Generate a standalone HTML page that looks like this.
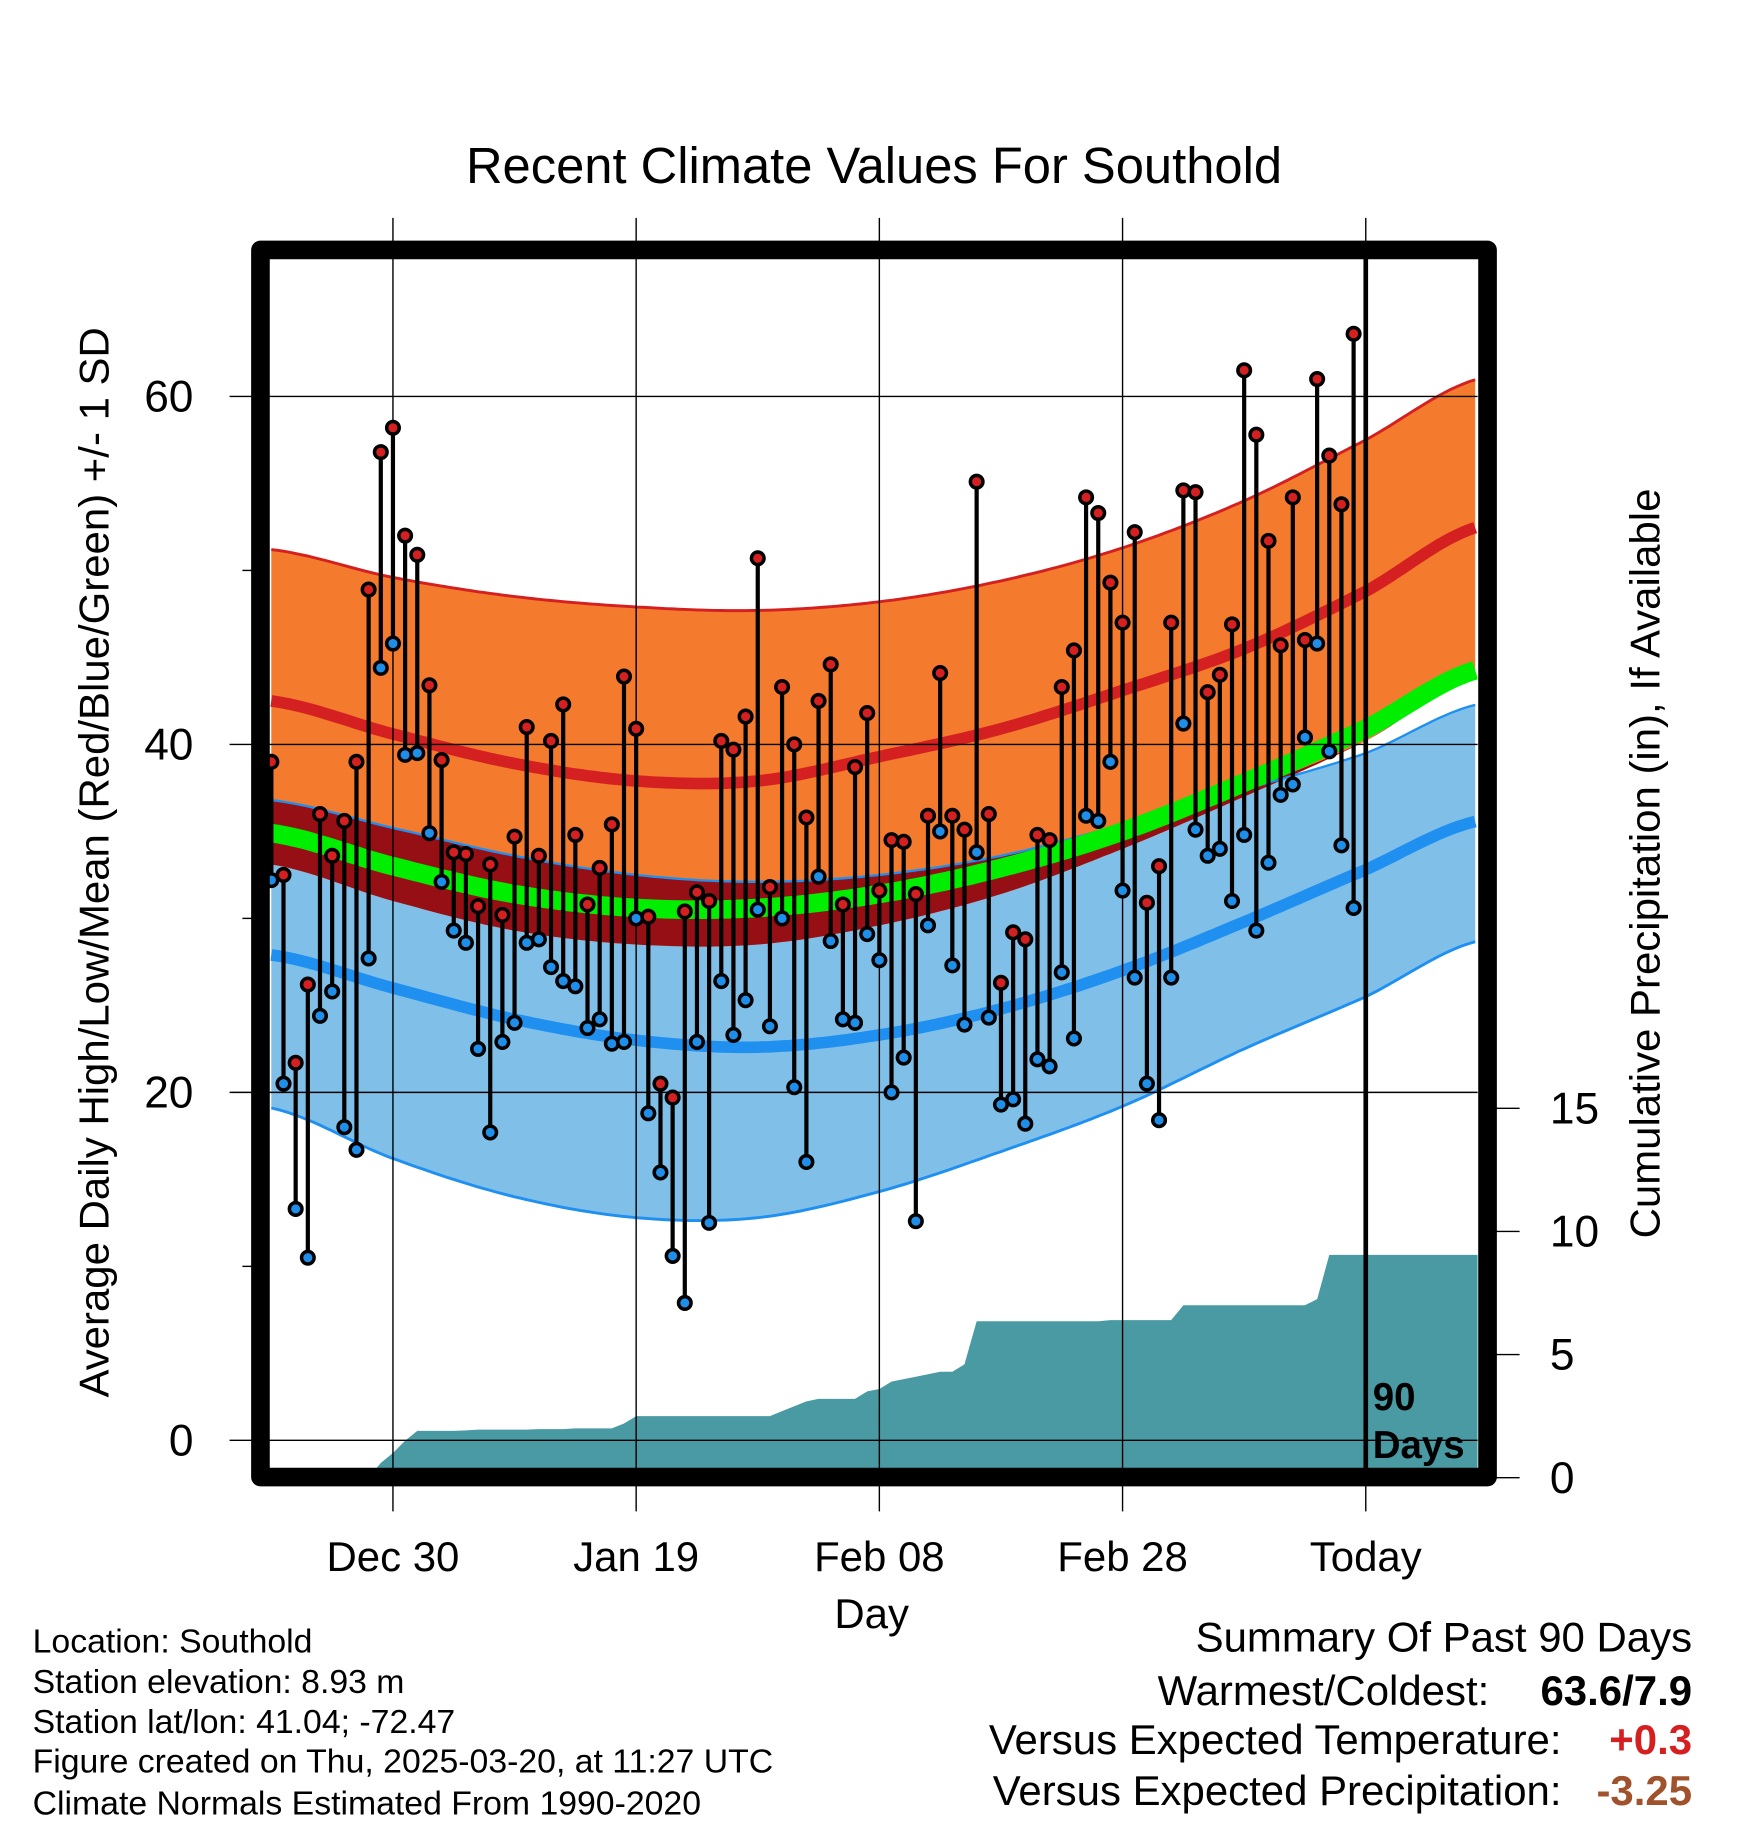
<!DOCTYPE html>
<html><head><meta charset="utf-8"><style>
html,body{margin:0;padding:0;background:#fff;}
svg{display:block;font-family:"Liberation Sans",sans-serif;}
</style></head><body>
<svg id="chart" width="1748" height="1828" viewBox="0 0 1500 1568.65" preserveAspectRatio="none" xmlns="http://www.w3.org/2000/svg">
<defs><clipPath id="plotclip"><rect x="231" y="222" width="1037" height="1038"/></clipPath></defs>
<rect x="0" y="0" width="1500" height="1568.65" fill="#fff"/>
<text x="750" y="157" font-size="43.5" text-anchor="middle">Recent Climate Values For Southold</text>
<g id="bands" clip-path="url(#plotclip)"></g>
<g id="grid"></g>
<g id="marks" clip-path="url(#plotclip)"></g>
<g id="axes"></g>
<rect x="223.5" y="214.5" width="1053" height="1053" fill="none" stroke="#000" stroke-width="16" stroke-linejoin="round"/>
<text transform="translate(93,740) rotate(-90)" font-size="36" text-anchor="middle">Average Daily High/Low/Mean (Red/Blue/Green) +/- 1 SD</text>
<text transform="translate(1424,741) rotate(-90)" font-size="36" text-anchor="middle">Cumulative Precipitation (in), If Available</text>
<text x="748" y="1397" font-size="36" text-anchor="middle">Day</text>
<text x="1178" y="1210" font-size="33" font-weight="bold">90</text>
<text x="1178" y="1251" font-size="33" font-weight="bold">Days</text>
<g font-size="29">
<text x="28" y="1418">Location: Southold</text>
<text x="28" y="1453">Station elevation: 8.93 m</text>
<text x="28" y="1487">Station lat/lon: 41.04; -72.47</text>
<text x="28" y="1521">Figure created on Thu, 2025-03-20, at 11:27 UTC</text>
<text x="28" y="1557">Climate Normals Estimated From 1990-2020</text>
</g>
<g font-size="36">
<text x="1452" y="1417" text-anchor="end">Summary Of Past 90 Days</text>
<text x="1278" y="1463" text-anchor="end">Warmest/Coldest:</text>
<text x="1452" y="1463" text-anchor="end" font-weight="bold">63.6/7.9</text>
<text x="1340" y="1505" text-anchor="end">Versus Expected Temperature:</text>
<text x="1452" y="1505" text-anchor="end" font-weight="bold" fill="#d42020">+0.3</text>
<text x="1340" y="1549" text-anchor="end">Versus Expected Precipitation:</text>
<text x="1452" y="1549" text-anchor="end" font-weight="bold" fill="#a0522d">-3.25</text>
</g>
</svg>
<script>
const highs=[39,32.5,21.7,26.2,36.0,33.6,35.6,39.0,48.9,56.8,58.2,52.0,50.9,43.4,39.1,33.8,33.7,30.7,33.1,30.2,34.7,41.0,33.6,40.2,42.3,34.8,30.8,32.9,35.4,43.9,40.9,30.1,20.5,19.7,30.4,31.5,31.0,40.2,39.7,41.6,50.7,31.8,43.3,40.0,35.8,42.5,44.6,30.8,38.7,41.8,31.6,34.5,34.4,31.4,35.9,44.1,35.9,35.1,55.1,36.0,26.3,29.2,28.8,34.8,34.5,43.3,45.4,54.2,53.3,49.3,47.0,52.2,30.9,33.0,47.0,54.6,54.5,43.0,44.0,46.9,61.5,57.8,51.7,45.7,54.2,46.0,61.0,56.6,53.8,63.6];
const lows=[32.2,20.5,13.3,10.5,24.4,25.8,18.0,16.7,27.7,44.4,45.8,39.4,39.5,34.9,32.1,29.3,28.6,22.5,17.7,22.9,24.0,28.6,28.8,27.2,26.4,26.1,23.7,24.2,22.8,22.9,30.0,18.8,15.4,10.6,7.9,22.9,12.5,26.4,23.3,25.3,30.5,23.8,30.0,20.3,16.0,32.4,28.7,24.2,24.0,29.1,27.6,20.0,22.0,12.6,29.6,35.0,27.3,23.9,33.8,24.3,19.3,19.6,18.2,21.9,21.5,26.9,23.1,35.9,35.6,39.0,31.6,26.6,20.5,18.4,26.6,41.2,35.1,33.6,34.0,31.0,34.8,29.3,33.2,37.1,37.7,40.4,45.8,39.6,34.2,30.6];
const precip=[0,0,0,0,0,0,0,0,0,0.6,1.0,1.5,1.9,1.9,1.9,1.9,1.92,1.95,1.95,1.95,1.95,1.95,1.97,1.97,1.97,2.0,2.0,2.0,2.0,2.2,2.5,2.5,2.5,2.5,2.5,2.5,2.5,2.5,2.5,2.5,2.5,2.5,2.7,2.9,3.1,3.2,3.2,3.2,3.2,3.5,3.6,3.9,4.0,4.1,4.2,4.3,4.3,4.6,6.35,6.35,6.35,6.35,6.35,6.35,6.35,6.35,6.35,6.35,6.35,6.4,6.4,6.4,6.4,6.4,6.4,7.0,7.0,7.0,7.0,7.0,7.0,7.0,7.0,7.0,7.0,7.0,7.25,9.05,9.05,9.05];
const normDays=[-90,-80,-70,-60,-50,-40,-30,-20,-10,0,9.2];
const highTop=[51.2,49.6,48.5,47.9,47.7,48.2,49.4,51.3,54.0,57.5,61.0];
const highMean=[42.5,40.6,38.9,37.9,37.9,39.3,40.9,43.1,45.5,48.8,52.5];
const highBot=[33.1,31.0,29.3,28.5,28.5,29.6,31.4,34.0,37.0,40.2,44.0];
const meanAll=[34.9,33.0,31.4,30.6,30.6,31.4,32.9,35.0,37.8,40.9,44.3];
const lowTop=[36.8,35.2,33.6,32.5,32.1,32.5,33.6,35.4,37.4,39.5,42.3];
const lowMean=[27.9,26.0,24.2,23.0,22.6,23.3,24.8,27.0,29.8,32.8,35.6];
const lowBot=[19.1,16.2,14.0,12.8,12.8,14.3,16.6,19.2,22.5,25.5,28.7];
const xTickLabels=["Dec 30","Jan 19","Feb 08","Feb 28","Today"];
const xTickDays=[-80,-60,-40,-20,0];
const yTicks=[0,20,40,60];
const yMinor=[10,30,50];
const pTicks=[0,5,10,15];

const NS="http://www.w3.org/2000/svg";
const xDay=d=>1172+d*10.435;
const yT=v=>1236-v*14.93;
const yP=v=>1268-v*21.13;
function mk(tag,attrs,parent){const e=document.createElementNS(NS,tag);for(const k in attrs)e.setAttribute(k,attrs[k]);parent.appendChild(e);return e;}
function dense(arr){const pts=[];for(let d=-90;d<=9.2;d+=0.5){let i=0;while(i<normDays.length-2&&d>normDays[i+1])i++;const t=(d-normDays[i])/(normDays[i+1]-normDays[i]);
const p0=arr[Math.max(i-1,0)],p1=arr[i],p2=arr[i+1],p3=arr[Math.min(i+2,arr.length-1)];
const m1=(p2-p0)/2,m2=(p3-p1)/2;const t2=t*t,t3=t2*t;
const v=(2*t3-3*t2+1)*p1+(t3-2*t2+t)*m1+(-2*t3+3*t2)*p2+(t3-t2)*m2;pts.push([xDay(d),yT(v),v]);}return pts;}
function pathOf(pts){return pts.map((p,i)=>(i?"L":"M")+p[0].toFixed(1)+","+p[1].toFixed(1)).join("");}
function band(top,bot,fill,name){const a=dense(top),b=dense(bot).reverse();
const p=mk("path",{d:pathOf(a)+pathOf(b).replace("M","L")+"Z",fill:fill},bands);

return p;}
function line(arr,color,w,name){const p=mk("path",{d:pathOf(dense(arr)),fill:"none",stroke:color,"stroke-width":w},bands);

return p;}
const bands=document.getElementById("bands");
band(lowTop,lowBot,"#80c0e8","low-sd-band");
band(highTop,highBot,"#f47a2e","high-sd-band");
const ov=lowTop.map((v,i)=>Math.max(v,highBot[i]));
band(ov,highBot,"#960f14","overlap-band");
line(lowTop,"#2090f0",2,"low-sd-top-line");
line(lowBot,"#2090f0",2.5,"low-sd-bottom-line");
line(highTop,"#d42020",2.5,"high-sd-top-line");
line(meanAll,"#00ee00",16,"mean-line");
line(highMean,"#d42020",10,"high-mean-line");
line(lowMean,"#2090f0",10,"low-mean-line");
{let pts=precip.map((v,i)=>[xDay(i-90),yP(v)]);pts.push([1268,yP(precip[precip.length-1])]);
const d=pathOf(pts)+"L1268,1262L"+xDay(-90).toFixed(1)+",1262Z";
const p=mk("path",{d:d,fill:"#4a9aa4"},bands);

}
const grid=document.getElementById("grid");
xTickDays.forEach((d,i)=>{const x=xDay(d);
const g=mk("line",{x1:x,x2:x,y1:187,y2:1297,stroke:"#000","stroke-width":1.2},grid);


const t=mk("text",{x:x,y:1348,"font-size":36,"text-anchor":"middle"},grid);t.textContent=xTickLabels[i];

});
yTicks.forEach(v=>{const y=yT(v);
const g=mk("line",{x1:197,x2:1268,y1:y,y2:y,stroke:"#000","stroke-width":1.2},grid);


const t=mk("text",{x:166,y:y+13,"font-size":38,"text-anchor":"end"},grid);t.textContent=v;

});
yMinor.forEach(v=>{const y=yT(v);const g=mk("line",{x1:208,x2:220,y1:y,y2:y,stroke:"#000","stroke-width":1.2},grid);

});
pTicks.forEach(v=>{const y=yP(v);
const g=mk("line",{x1:1284,x2:1304,y1:y,y2:y,stroke:"#000","stroke-width":1.2},grid);


const t=mk("text",{x:1330,y:y+13,"font-size":38},grid);t.textContent=v;

});
const marks=document.getElementById("marks");
highs.forEach((h,i)=>{const x=xDay(i-90);
const s=mk("line",{x1:x,x2:x,y1:yT(h),y2:yT(lows[i]),stroke:"#000","stroke-width":3.6},marks);

});
highs.forEach((h,i)=>{const x=xDay(i-90);
const c1=mk("circle",{cx:x,cy:yT(h),r:5.4,fill:"#d42020",stroke:"#000","stroke-width":3},marks);


const c2=mk("circle",{cx:x,cy:yT(lows[i]),r:5.4,fill:"#1e8ee8",stroke:"#000","stroke-width":3},marks);

});
const today=mk("line",{x1:1172,x2:1172,y1:222,y2:1262,stroke:"#000","stroke-width":4},marks);


</script>
</body></html>
